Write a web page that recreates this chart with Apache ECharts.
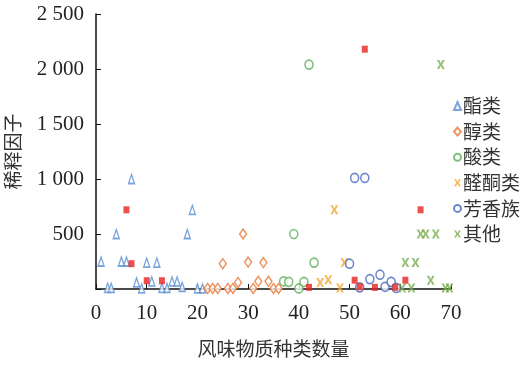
<!DOCTYPE html>
<html><head><meta charset="utf-8">
<script src="https://cdn.jsdelivr.net/npm/echarts@6/dist/echarts.min.js"></script>
<style>html,body{margin:0;padding:0;background:#fff}#c{width:530px;height:365px}</style>
</head><body><div id="c"></div>
<script>
const xTicks = [0,10,20,30,40,50,70];
const yTicks = [0,500,1000,1500,2000,2500];
const seriesNames = ['酯类','醇类','酸类','醛酮类','芳香族','其他'];
const esters = [[1,250],[2.3,10],[3.0,10],[4,500],[5,250],[6,250],[7,1000],[8,60],[9,5],[10,240],[11,70],[12,240],[13,10],[14,10],[15,70],[16,70],[17,20],[18,500],[19,720],[20,5],[21,5]];
const alcohols = [[22,5],[23,5],[24,5],[25,230],[26,5],[27,5],[28,60],[29,500],[30,245],[31,5],[32,70],[33,240],[34,70],[35,5],[36,5]];
const acids = [[37,70],[38,65],[39,500],[40,5],[41,65],[42,2040],[43,240]];
const aldKet = [[44.2,60],[45.8,85],[47,720],[48.1,10],[49,240]];
const aromatics = [[50,230],[51,1010],[52,15],[53,1010],[54,90],[56,130],[57,20],[58.2,65],[59.2,10]];
const others = [[60.4,10],[61,240],[62.2,10],[63,240],[64,500],[65,500],[66,80],[67,500],[68,2040],[68.9,8],[69.7,8]];
const unnamed = [[6,720],[7,230],[10,75],[13,75],[42,15],[51,80],[52,20],[53,2180],[55,15],[59,15],[61,80],[64,720]];

const X_PATH = 'path://M0,0L3,0L5,3.6L7,0L10,0L6.6,5L10,10L7,10L5,6.4L3,10L0,10L3.4,5Z';
const font = '"Liberation Serif","Noto Sans CJK SC",serif';
const cjk = '"Noto Sans CJK SC","Liberation Serif",sans-serif';
function fmt(v){ return String(v).replace(/\B(?=(\d{3})+(?!\d))/g,' '); }

const chart = echarts.init(document.getElementById('c'), null, {renderer:'canvas'});
chart.setOption({
  animation:false,
  backgroundColor:'#fff',
  grid:{left:96,right:79,top:14,bottom:76,containLabel:false,outerBoundsMode:'none'},
  legend:{
    data:seriesNames, orient:'vertical', left:448, top:91, itemGap:5.6,
    itemWidth:7, itemHeight:8,
    textStyle:{fontFamily:cjk,fontSize:19,color:'#333',lineHeight:20,padding:[0,0,0,-3]}
  },
  xAxis:{
    type:'value', min:0, max:70, interval:10,
    name:'风味物质种类数量', nameLocation:'middle', nameGap:50,
    nameTextStyle:{fontFamily:cjk,fontSize:19,color:'#333'},
    axisLine:{show:true,onZero:false,lineStyle:{color:'#111',width:1.5}},
    axisTick:{show:true,inside:true,length:5,lineStyle:{color:'#111'}},
    axisLabel:{fontFamily:font,fontSize:21,color:'#222',margin:14},
    splitLine:{show:false}
  },
  yAxis:{
    type:'value', min:0, max:2500, interval:500,
    name:'稀释因子', nameLocation:'middle', nameGap:74, nameRotate:90,
    nameTextStyle:{fontFamily:cjk,fontSize:19,color:'#333'},
    axisLine:{show:true,lineStyle:{color:'#111',width:1.5}},
    axisTick:{show:true,inside:true,length:5,lineStyle:{color:'#111'}},
    axisLabel:{fontFamily:font,fontSize:21,color:'#222',margin:12,formatter:v=>v===0?'':fmt(v)},
    splitLine:{show:false}
  },
  series:[
    {name:'酯类',type:'scatter',data:esters,symbol:'triangle',symbolSize:[6,9],
     itemStyle:{color:'#fff',borderColor:'#5b8fd3',borderWidth:1.5}},
    {name:'醇类',type:'scatter',data:alcohols,symbol:'diamond',symbolSize:[7,10],
     itemStyle:{color:'#fff',borderColor:'#e8783a',borderWidth:1.5}},
    {name:'酸类',type:'scatter',data:acids,symbol:'circle',symbolSize:[8,9],
     itemStyle:{color:'#fff',borderColor:'#5fae5a',borderWidth:1.6}},
    {name:'醛酮类',type:'scatter',data:aldKet,symbol:X_PATH,symbolSize:[8,9],
     itemStyle:{color:'#f2a632'}},
    {name:'芳香族',type:'scatter',data:aromatics,symbol:'circle',symbolSize:[8,9],
     itemStyle:{color:'#fff',borderColor:'#4a68bf',borderWidth:1.6}},
    {name:'其他',type:'scatter',data:others,symbol:X_PATH,symbolSize:[8,9],
     itemStyle:{color:'#7aae52'}},
    {name:'unnamed',type:'scatter',data:unnamed,symbol:'rect',symbolSize:[6,7],
     itemStyle:{color:'#e8241f'},z:5}
  ]
});
</script></body></html>
